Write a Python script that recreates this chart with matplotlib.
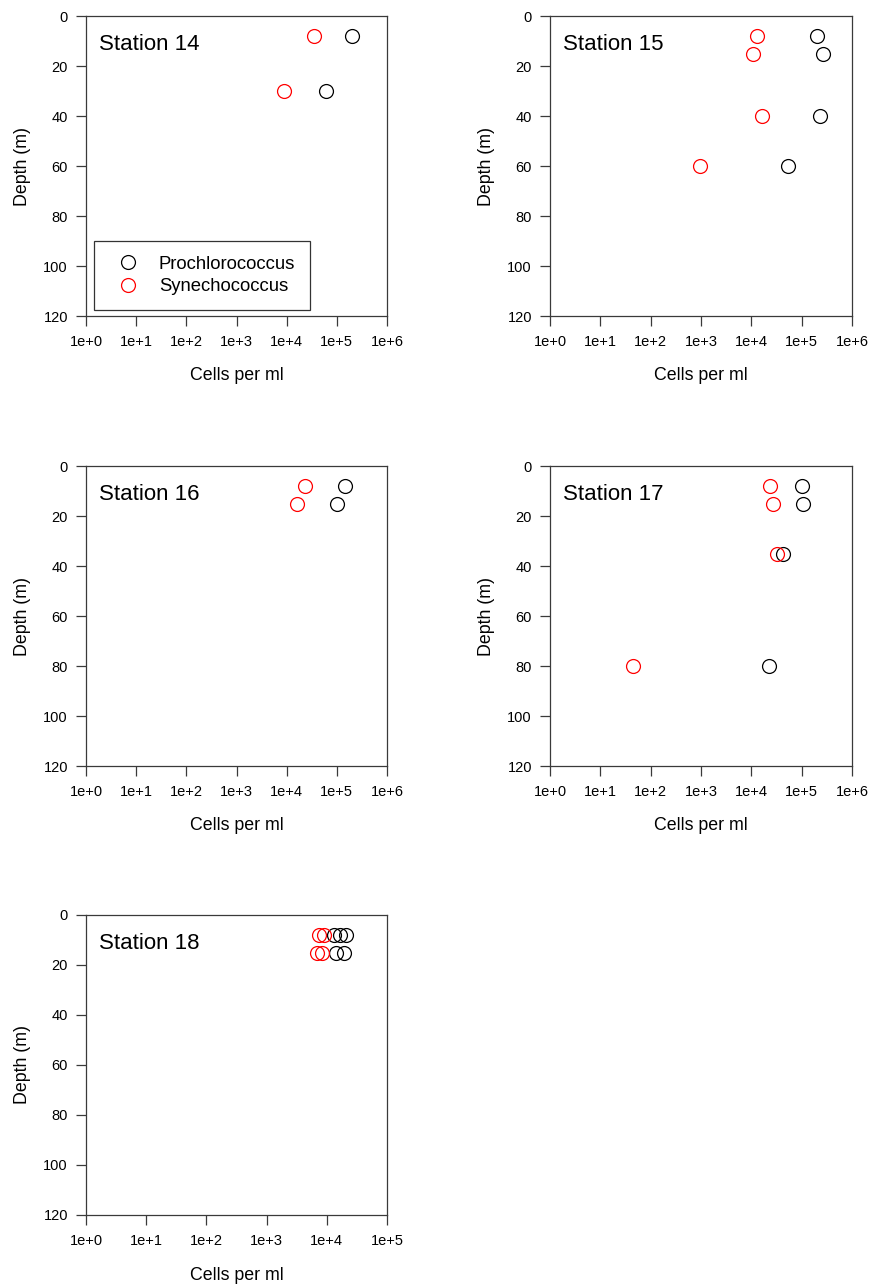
import matplotlib
matplotlib.use("Agg")
import matplotlib.pyplot as plt
from matplotlib.ticker import FixedLocator, NullLocator

plt.rcParams['font.family'] = ['Liberation Sans', 'DejaVu Sans']

# Data: (depth m, cells per ml)
st14_pro_depth = [8, 30]
st14_pro_cells = [2.0e5, 6.0e4]
st14_syn_depth = [8, 30]
st14_syn_cells = [3.5e4, 9.0e3]

st15_pro_depth = [8, 15, 40, 60]
st15_pro_cells = [2.0e5, 2.6e5, 2.3e5, 5.4e4]
st15_syn_depth = [8, 15, 40, 60]
st15_syn_cells = [1.3e4, 1.1e4, 1.6e4, 9.5e2]

st16_pro_depth = [8, 15]
st16_pro_cells = [1.45e5, 1.0e5]
st16_syn_depth = [8, 15]
st16_syn_cells = [2.3e4, 1.6e4]

st17_pro_depth = [8, 15, 35, 80]
st17_pro_cells = [1.0e5, 1.08e5, 4.2e4, 2.2e4]
st17_syn_depth = [8, 15, 35, 80]
st17_syn_cells = [2.4e4, 2.7e4, 3.2e4, 45]

st18_pro_depth = [8, 8, 8, 15, 15]
st18_pro_cells = [1.32e4, 1.66e4, 2.1e4, 1.42e4, 1.95e4]
st18_syn_depth = [8, 8, 15, 15]
st18_syn_cells = [7.4e3, 8.9e3, 6.9e3, 8.3e3]

stations = ["Station 14", "Station 15", "Station 16", "Station 17", "Station 18"]
xmax_exp = [6, 6, 6, 6, 5]
depth_ticks = [0, 20, 40, 60, 80, 100, 120]

panels = [
    (st14_pro_cells, st14_pro_depth, st14_syn_cells, st14_syn_depth),
    (st15_pro_cells, st15_pro_depth, st15_syn_cells, st15_syn_depth),
    (st16_pro_cells, st16_pro_depth, st16_syn_cells, st16_syn_depth),
    (st17_pro_cells, st17_pro_depth, st17_syn_cells, st17_syn_depth),
    (st18_pro_cells, st18_pro_depth, st18_syn_cells, st18_syn_depth),
]

W, H = 871, 1284
fig = plt.figure(figsize=(W / 100, H / 100), dpi=100)

# axes boxes in pixels: left, top, right, bottom
boxes = [
    (86, 16, 387, 316),
    (550, 16, 852, 316),
    (86, 466, 387, 766),
    (550, 466, 852, 766),
    (86, 915, 387, 1215),
]

spine_col = '#3a3a3a'
for i, (name, emax, data, box) in enumerate(zip(stations, xmax_exp, panels, boxes)):
    l, t, r, b = box
    ax = fig.add_axes([l / W, 1 - b / H, (r - l) / W, (b - t) / H])
    pc, pdp, sc, sdp = data
    ax.plot(pc, pdp, linestyle='none', marker='o', markersize=10,
            markerfacecolor='none', markeredgecolor='black', markeredgewidth=0.9,
            label='Prochlorococcus')
    ax.plot(sc, sdp, linestyle='none', marker='o', markersize=10,
            markerfacecolor='none', markeredgecolor='#ff0000', markeredgewidth=0.9,
            label='Synechococcus')
    ax.set_xscale('log')
    ax.set_xlim(1, 10 ** emax)
    ax.set_ylim(120, 0)
    ax.xaxis.set_major_locator(FixedLocator([10 ** k for k in range(emax + 1)]))
    ax.xaxis.set_minor_locator(NullLocator())
    ax.set_xticklabels([f"1e+{k}" for k in range(emax + 1)])
    ax.set_yticks(depth_ticks)
    ax.tick_params(direction='out', length=7, width=0.9, color=spine_col,
                   labelsize=10.5)
    ax.tick_params(axis='x', pad=7)
    ax.tick_params(axis='y', pad=6)
    for s in ax.spines.values():
        s.set_linewidth(0.9)
        s.set_color(spine_col)
    ax.set_xlabel("Cells per ml", fontsize=12.8, labelpad=13)
    ax.set_ylabel("Depth (m)", fontsize=12.8, labelpad=9)
    ax.text(0.043, 0.905, name, transform=ax.transAxes, fontsize=16,
            ha='left', va='center')
    if i == 0:
        leg = ax.legend(loc='lower left', bbox_to_anchor=(0.027, 0.02),
                        fontsize=13.3, frameon=True, fancybox=False,
                        edgecolor='black', handletextpad=0.6, handlelength=2.1,
                        borderpad=0.8, labelspacing=0.3, borderaxespad=0)
        leg.get_frame().set_linewidth(0.9)

fig.savefig("out.png", dpi=100)
